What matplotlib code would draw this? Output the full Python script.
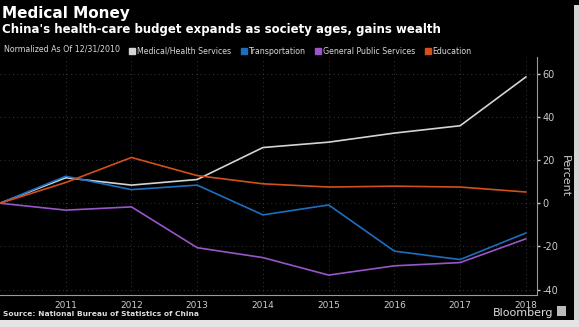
"""Bloomberg-style chart: China's budget by category, normalized to 2010"""
import matplotlib
matplotlib.use("Agg")
import matplotlib.pyplot as plt
from matplotlib.lines import Line2D
from matplotlib.patches import Rectangle

years = [2010, 2011, 2012, 2013, 2014, 2015, 2016, 2017, 2018]
medical = [0, 11.8, 8.4, 11.0, 25.8, 28.3, 32.5, 35.9, 58.5]
transport = [0, 12.5, 6.3, 8.4, -5.4, -0.8, -22.2, -26.1, -13.8]
general = [0, -3.2, -1.7, -20.6, -25.2, -33.3, -29.0, -27.5, -16.5]
education = [0, 9.6, 21.2, 12.8, 9.0, 7.5, 7.9, 7.5, 5.2]

series_names = ["Medical/Health Services", "Transportation",
                "General Public Services", "Education"]
colors = ["#d4d4d4", "#1c6fc0", "#9a55c9", "#d2501c"]
y_ticks = [-40, -20, 0, 20, 40, 60]
y_labels = ["-40", "-20", "0", "20", "40", "60"]

fig = plt.figure(figsize=(5.79, 3.27), dpi=100, facecolor="black")
ax = fig.add_axes([0.0, 0.098, 0.9275, 0.728], facecolor="black")

for vals, col in zip([medical, transport, general, education], colors):
    ax.plot(years, vals, color=col, lw=1.2, solid_joinstyle="miter")

ax.set_xlim(2010, 2018.17)
ax.set_ylim(-42.5, 67.8)
ax.set_xticks(years[1:])
ax.set_yticks(y_ticks, y_labels)
ax.yaxis.tick_right()
ax.yaxis.set_label_position("right")
ax.tick_params(axis="y", colors="#cccccc", labelsize=7, length=2, width=1, pad=2)
ax.tick_params(axis="x", colors="#cccccc", labelsize=6.5, length=0, pad=4)
ax.set_ylabel("Percent", color="#cccccc", fontsize=8, rotation=270, va="center")
ax.yaxis.set_label_coords(1.052, 0.5)

for side in ["left", "top"]:
    ax.spines[side].set_visible(False)
for side in ["right", "bottom"]:
    ax.spines[side].set_color("#9a9a9a")
    ax.spines[side].set_linewidth(0.8)

ax.grid(True, color="#4a4a4a", ls=(0, (1, 4)), lw=0.6)
ax.set_axisbelow(True)

# titles
fig.text(0.004, 0.945, "Medical Money", color="white", fontsize=11,
         fontweight="bold", va="baseline")
fig.text(0.004, 0.9, "China's health-care budget expands as society ages, gains wealth",
         color="white", fontsize=8.5, fontweight="bold", va="baseline")
fig.text(0.007, 0.843, "Normalized As Of 12/31/2010", color="#d8d8d8",
         fontsize=5.7, va="baseline")

handles = [Line2D([], [], ls="none", marker="s", markersize=4,
                  markerfacecolor=c, markeredgecolor=c) for c in colors]
fig.legend(handles, series_names, loc="lower left", bbox_to_anchor=(0.224, 0.83),
           ncol=4, frameon=False, fontsize=5.7, labelcolor="#d8d8d8",
           handlelength=0.6, handletextpad=0.3, columnspacing=1.3,
           borderpad=0, borderaxespad=0)

fig.text(0.006, 0.033, "Source: National Bureau of Statistics of China",
         color="#dddddd", fontsize=5.4, fontweight="bold", va="baseline")
fig.text(0.955, 0.033, "Bloomberg", color="#dddddd", fontsize=8,
         ha="right", va="baseline")
fig.patches.append(Rectangle((0.962, 0.034), 0.016, 0.03, transform=fig.transFigure,
                             facecolor="#bbbbbb", edgecolor="none"))

# light page shadow on right and bottom
fig.patches.append(Rectangle((0.992, 0.0), 0.008, 0.985, transform=fig.transFigure,
                             facecolor="#d6d6d6", edgecolor="none"))
fig.patches.append(Rectangle((0.0, 0.0), 1.0, 0.021, transform=fig.transFigure,
                             facecolor="#e4e4e4", edgecolor="none"))

fig.savefig("out.png", dpi=100, facecolor="black")
